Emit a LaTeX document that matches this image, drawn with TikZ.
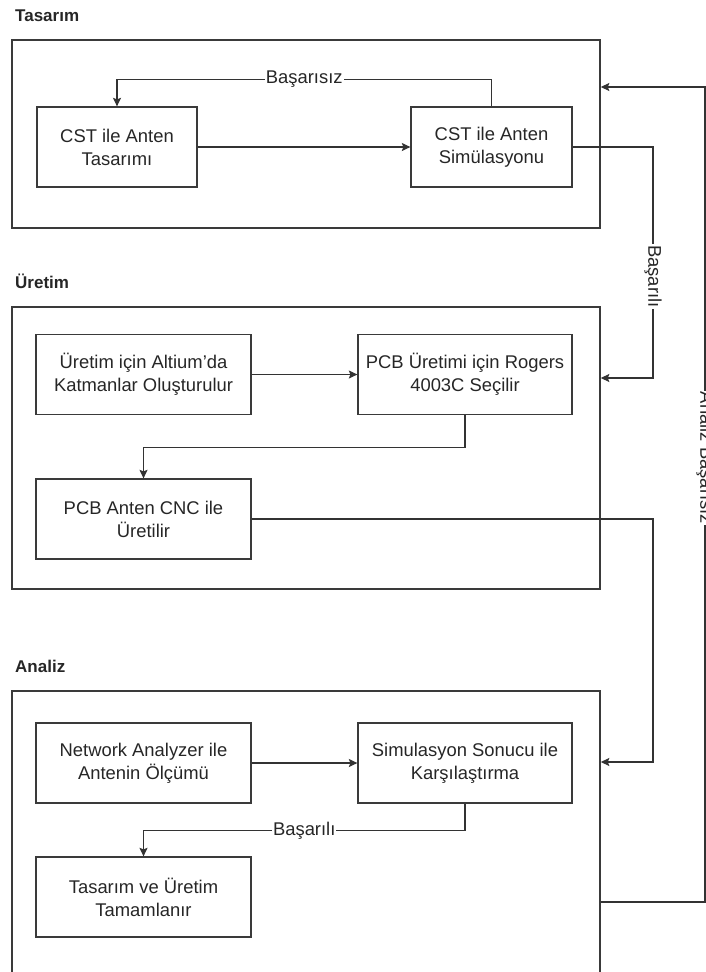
\documentclass[tikz,border=0pt]{standalone}
\usepackage{fontspec}
\setmainfont{Liberation Sans}
\usetikzlibrary{arrows.meta}

\definecolor{linec}{HTML}{333333}
\definecolor{framec}{HTML}{3A3A3A}
\definecolor{textc}{HTML}{262626}

\newcommand\stepfont{\fontsize{18.4}{23}\selectfont}
\newcommand\titlefont{\bfseries\fontsize{17}{20}\selectfont}

\tikzset{
  group/.style={draw=framec, line width=1.6pt, rectangle, inner sep=0pt},
  stepbox/.style={draw=framec, line width=1.3pt, rectangle, align=center,
    font=\stepfont, text=textc, inner sep=0pt, minimum height=80pt},
  narrow/.style={stepbox, minimum width=160pt},
  wide/.style={stepbox, minimum width=215pt},
  conn/.style={draw=linec, line width=1.2pt,
    -{Stealth[length=8.5pt, width=8pt, inset=1.5pt]}},
  lbl/.style={fill=white, inner sep=1pt, font=\stepfont, text=textc},
  grouptitle/.style={anchor=base west, font=\titlefont, text=textc, inner sep=0pt}
}

\begin{document}
\begin{tikzpicture}[x=1pt, y=-1pt]
\useasboundingbox (0,0) rectangle (706,972);
\begin{scope}
\clip (0,0) rectangle (706,972);

% group frames
\node[group, minimum width=588pt, minimum height=188pt] (gTas) at (306,134) {};
\node[group, minimum width=588pt, minimum height=282pt] (gUre) at (306,448) {};
\node[group, minimum width=588pt, minimum height=300pt] (gAna) at (306,841) {};

% group titles
\node[grouptitle] (tTas) at (15,21) {Tasarım};
\node[grouptitle] (tUre) at (15,288) {Üretim};
\node[grouptitle] (tAna) at (15,672) {Analiz};

% design steps
\node[narrow] (tas) at (117,147) {CST ile Anten\\Tasarımı};
\node[narrow, minimum width=161pt] (sim) at (491.5,147) {CST ile Anten\\Simülasyonu};

% production steps
\node[wide] (alt) at (143.5,374.5) {Üretim için Altium'da\\Katmanlar Oluşturulur};
\node[wide, minimum width=214pt] (rog) at (465,374.5) {PCB Üretimi için Rogers\\4003C Seçilir};
\node[wide] (cnc) at (143.5,519) {PCB Anten CNC ile\\Üretilir};

% analysis steps
\node[wide] (net) at (143.5,763) {Network Analyzer ile\\Antenin Ölçümü};
\node[wide, minimum width=214pt] (cmp) at (465,763) {Simulasyon Sonucu ile\\Karşılaştırma};
\node[wide] (done) at (143.5,897) {Tasarım ve Üretim\\Tamamlanır};

% routing corners
\coordinate (r1) at (653,378);
\coordinate (r2) at (653,762);
\coordinate (r3) at (705,902);
\coordinate (r4) at (705,87);

% design flow
\draw[conn] (tas.east) -- (sim.west);
\draw[conn] (sim.north) |- node[lbl, pos=0.75] {Başarısız} ([yshift=27pt]tas.north) -- (tas.north);
\draw[conn] (sim.east) -| node[lbl, pos=0.78, rotate=-90] {Başarılı} (r1) -- (r1 -| gUre.east);

% production flow
\draw[conn] (alt.east) -- (rog.west);
\draw[conn] (rog.south) -- ++(0,32) -| (cnc.north);
\draw[conn] (cnc.east) -| (r2) -- (r2 -| gAna.east);

% analysis flow
\draw[conn] (net.east) -- (cmp.west);
\draw[conn] (cmp.south) -- ++(0,27) -| node[lbl, pos=0.25] {Başarılı} (done.north);
\draw[conn] (r3 -| gAna.east) -- (r3) -- node[lbl, pos=0.545, rotate=-90] {Analiz Başarısız} (r4) -- (r4 -| gTas.east);
\end{scope}
\end{tikzpicture}
\end{document}
